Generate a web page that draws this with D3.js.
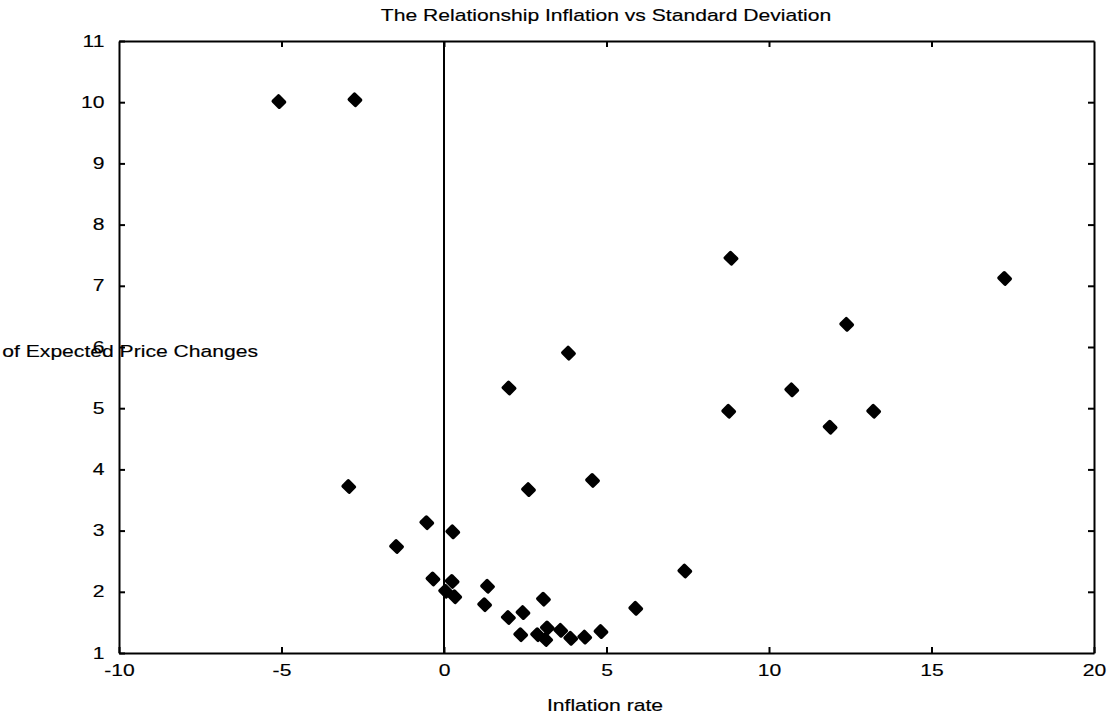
<!DOCTYPE html>
<html lang="en">
<head>
<meta charset="utf-8">
<title>Inflation vs Standard Deviation</title>
<script src="https://cdnjs.cloudflare.com/ajax/libs/d3/7.8.5/d3.min.js"></script>
<style>
  body { margin: 0; background: #fff; }
  text { font-family: "Liberation Sans", Arial, sans-serif; fill: #000; stroke: #000; stroke-width: 0.15px; }
  .axis path, .axis line { stroke: #000; }
  .axis path { stroke-width: 2px; }
  .axis line { stroke-width: 2px; }
  .axis text { font-size: 16px; }
</style>
</head>
<body>
<script>
// inflation rate (x) and std. deviation of expected price changes (y)
var inflation = [-5.08, -2.74, 8.83, 17.25, 12.39, 3.83, 2.00, 10.70, 8.76, 13.22,
                 11.88, -2.93, 4.57, 2.60, -0.53, 0.27, -1.46, 7.41, -0.34, 0.25,
                 0.05, 0.33, 1.34, 1.25, 3.06, 5.90, 1.98, 2.43, 2.36, 2.88,
                 3.18, 3.13, 3.59, 3.90, 4.33, 4.83];
var stdDev    = [10.01, 10.04, 7.45, 7.12, 6.37, 5.90, 5.33, 5.30, 4.95, 4.95,
                 4.69, 3.72, 3.82, 3.67, 3.13, 2.98, 2.74, 2.34, 2.21, 2.17,
                 2.01, 1.92, 2.09, 1.79, 1.88, 1.73, 1.58, 1.66, 1.30, 1.30,
                 1.41, 1.22, 1.37, 1.24, 1.26, 1.35];
var xTicks = [-10, -5, 0, 5, 10, 15, 20];
var yTicks = [1, 2, 3, 4, 5, 6, 7, 8, 9, 10, 11];

var W = 1115, H = 719;
var margin = {top: 41, right: 21, bottom: 66, left: 119};
var width = W - margin.left - margin.right,
    height = H - margin.top - margin.bottom;
var stretch = 1.32;   // the scanned text is wider than normal

var svg = d3.select("body").append("svg")
    .attr("width", W)
    .attr("height", H);

var g = svg.append("g")
    .attr("transform", "translate(" + margin.left + "," + margin.top + ")");

var x = d3.scaleLinear().domain([-10, 20]).range([0, width]);
var y = d3.scaleLinear().domain([1, 11]).range([height, 0]);

var plain = function(d) { return String(d); };  // keep hyphen minus like the scan

// bottom axis with labels, ticks pointing in
g.append("g")
    .attr("class", "axis")
    .attr("transform", "translate(0," + height + ")")
    .call(d3.axisBottom(x).tickValues(xTicks).tickSizeInner(-6).tickSizeOuter(0).tickPadding(12).tickFormat(plain))
    .selectAll("text").attr("transform", "scale(" + stretch + ",1)");

// top axis, no labels
g.append("g")
    .attr("class", "axis")
    .call(d3.axisTop(x).tickValues(xTicks.slice(1, -1)).tickSizeInner(-6).tickSizeOuter(0).tickFormat(""));

// left axis
g.append("g")
    .attr("class", "axis")
    .call(d3.axisLeft(y).tickValues(yTicks).tickSizeInner(-6).tickSizeOuter(0).tickPadding(11).tickFormat(plain))
    .selectAll("text").attr("transform", "scale(" + stretch + ",1)");

// right axis, no labels
g.append("g")
    .attr("class", "axis")
    .attr("transform", "translate(" + width + ",0)")
    .call(d3.axisRight(y).tickValues(yTicks.slice(1, -1)).tickSizeInner(-6).tickSizeOuter(0).tickFormat(""));

// vertical line at zero inflation
g.append("line")
    .attr("x1", x(0)).attr("x2", x(0))
    .attr("y1", 0).attr("y2", height)
    .attr("stroke", "#000")
    .attr("stroke-width", 2);

// points
var pts = inflation.map(function(v, i) { return [v, stdDev[i]]; });
g.selectAll(".pt")
    .data(pts)
  .enter().append("path")
    .attr("class", "pt")
    .attr("d", d3.symbol().type(d3.symbolSquare).size(64))
    .attr("transform", function(d) {
        return "translate(" + x(d[0]) + "," + y(d[1]) + ") rotate(45) scale(1.05,0.95)";
    })
    .attr("fill", "#000")
    .attr("stroke", "#000")
    .attr("stroke-width", 3.5)
    .attr("stroke-linejoin", "round");

function label(txt, px, py, anchor) {
    svg.append("text")
        .attr("transform", "translate(" + px + "," + py + ") scale(" + stretch + ",1)")
        .attr("text-anchor", anchor)
        .style("font-size", "16px")
        .text(txt);
}

label("The Relationship Inflation vs Standard Deviation", 606, 21, "middle");
label("Inflation rate", 605, 711, "middle");
// y label runs off the left edge in the original
label("Standard Deviation of Expected Price Changes", 258, 357, "end");
</script>
</body>
</html>
